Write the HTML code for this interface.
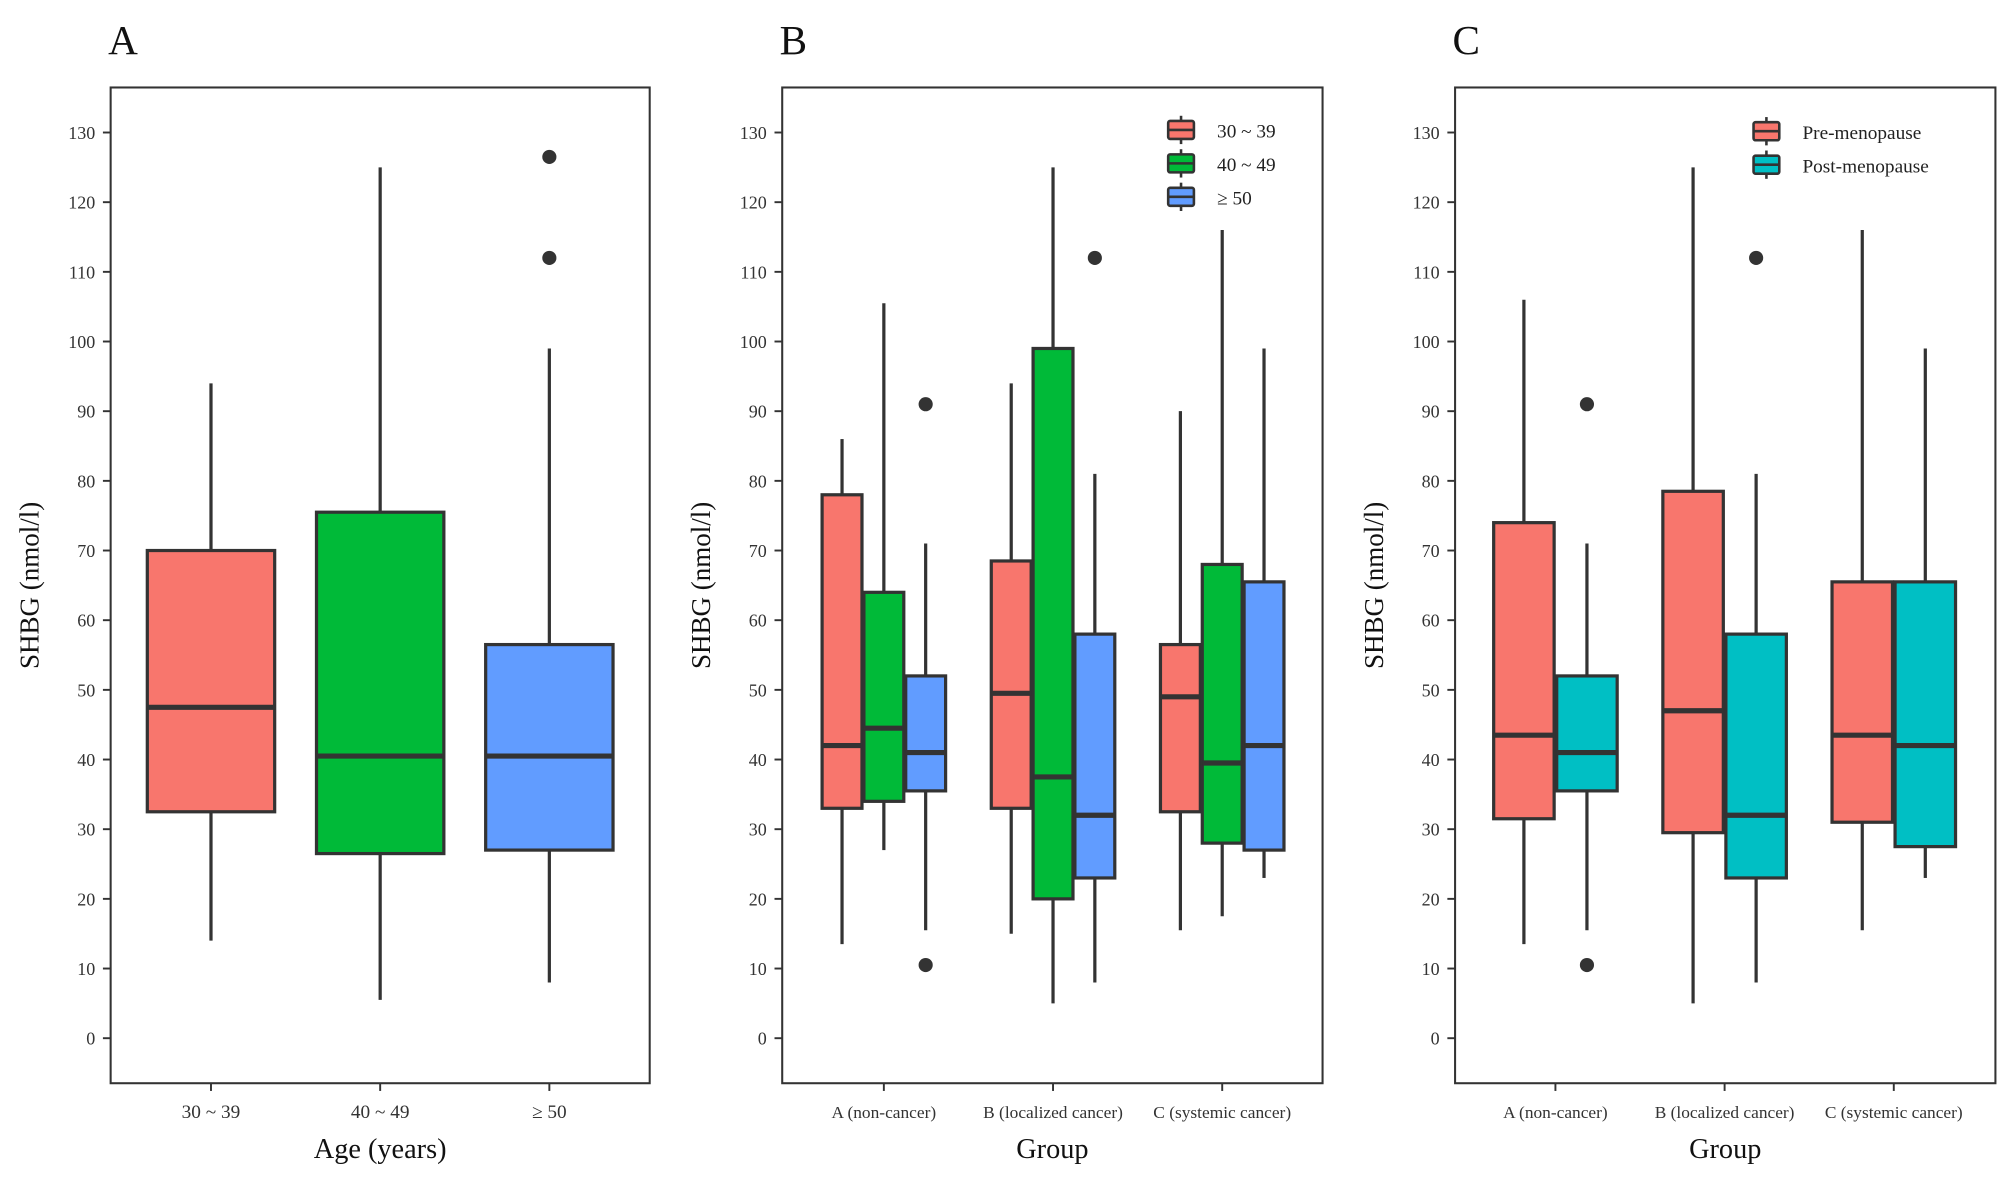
<!DOCTYPE html>
<html><head><meta charset="utf-8"><style>
html,body{margin:0;padding:0;background:#fff}
svg{display:block;font-family:"Liberation Serif",serif}
</style></head><body>
<svg id="fig" width="2007" height="1181" viewBox="0 0 1560 918" preserveAspectRatio="none" xmlns="http://www.w3.org/2000/svg"></svg>
<script>
const yTicks = [0,10,20,30,40,50,60,70,80,90,100,110,120,130];
const colors = {"30 ~ 39":"#F8766D","40 ~ 49":"#00BA38","≥ 50":"#619CFF","Pre-menopause":"#F8766D","Post-menopause":"#00BFC4"};
// Panel A
const aCategories = ["30 ~ 39","40 ~ 49","≥ 50"];
const aLow = [14,5.5,8];
const aQ1 = [32.5,26.5,27];
const aMed = [47.5,40.5,40.5];
const aQ3 = [70,75.5,56.5];
const aHigh = [94,125,99];
const aOutliers = [[],[],[112,126.5]];
// Panel B
const bGroups = ["A (non-cancer)","B (localized cancer)","C (systemic cancer)"];
const bSeries = ["30 ~ 39","40 ~ 49","≥ 50"];
const bLow = [[13.5,27,15.5],[15,5,8],[15.5,17.5,23]];
const bQ1 = [[33,34,35.5],[33,20,23],[32.5,28,27]];
const bMed = [[42,44.5,41],[49.5,37.5,32],[49,39.5,42]];
const bQ3 = [[78,64,52],[68.5,99,58],[56.5,68,65.5]];
const bHigh = [[86,105.5,71],[94,125,81],[90,116,99]];
const bOutliers = [[[],[],[91,10.5]],[[],[],[112]],[[],[],[]]];
// Panel C
const cGroups = ["A (non-cancer)","B (localized cancer)","C (systemic cancer)"];
const cSeries = ["Pre-menopause","Post-menopause"];
const cLow = [[13.5,15.5],[5,8],[15.5,23]];
const cQ1 = [[31.5,35.5],[29.5,23],[31,27.5]];
const cMed = [[43.5,41],[47,32],[43.5,42]];
const cQ3 = [[74,52],[78.5,58],[65.5,65.5]];
const cHigh = [[106,71],[125,81],[116,99]];
const cOutliers = [[[],[91,10.5]],[[],[112]],[[],[]]];

const NS="http://www.w3.org/2000/svg";
const svg=document.getElementById('fig');
function mk(tag,attrs,parent){const e=document.createElementNS(NS,tag);for(const k in attrs)e.setAttribute(k,attrs[k]);(parent||svg).appendChild(e);return e;}
const S="#333";
function yScale(v){return 807-(807-103)*v/130;}

function panel(letter,left,right,yTitle,xTitle){
  const g=mk('g',{});
  
  
  const t=mk('text',{x:left-2,y:42,'font-size':32,fill:'#111'},g);t.textContent=letter;
  
  
  const fr=mk('rect',{x:left,y:68,width:right-left,height:774,fill:'none',stroke:S,'stroke-width':1.6},g);
  
  
  yTicks.forEach(v=>{
    const y=yScale(v);
    mk('line',{x1:left-6,x2:left,y1:y,y2:y,stroke:S,'stroke-width':1.5},g);
    const tl=mk('text',{x:left-12,y:y+5,'font-size':14,'text-anchor':'end',fill:'#333'},g);tl.textContent=v;
    
    
  });
  const yt=mk('text',{x:0,y:0,'font-size':21,'text-anchor':'middle',fill:'#111',transform:`translate(${left-56},455) rotate(-90)`},g);yt.textContent=yTitle;
  
  
  const xt=mk('text',{x:(left+right)/2,y:900,'font-size':22,'text-anchor':'middle',fill:'#111'},g);xt.textContent=xTitle;
  
  
  return g;
}
function xTick(g,x,label,fs){
  mk('line',{x1:x,x2:x,y1:842,y2:848,stroke:S,'stroke-width':1.5},g);
  const t=mk('text',{x:x,y:869,'font-size':fs,'text-anchor':'middle',fill:'#333'},g);t.textContent=label;
  
  
}
function box(g,cx,w,lo,q1,md,q3,hi,outs,color,name){
  const b=mk('g',{},g);
  
  
  mk('line',{x1:cx,x2:cx,y1:yScale(hi),y2:yScale(q3),stroke:S,'stroke-width':2.5},b);
  mk('line',{x1:cx,x2:cx,y1:yScale(q1),y2:yScale(lo),stroke:S,'stroke-width':2.5},b);
  mk('rect',{x:cx-w/2,y:yScale(q3),width:w,height:yScale(q1)-yScale(q3),fill:color,stroke:S,'stroke-width':2.5},b);
  mk('line',{x1:cx-w/2,x2:cx+w/2,y1:yScale(md),y2:yScale(md),stroke:S,'stroke-width':4},b);
  outs.forEach(o=>{const c=mk('circle',{cx:cx,cy:yScale(o),r:5.5,fill:S},b);
    
    });
}
function legend(g,x,y0,series){
  series.forEach((s,i)=>{
    const y=y0+i*26;
    const lg=mk('g',{},g);
    
    
    mk('line',{x1:x,x2:x,y1:y-11,y2:y+11,stroke:S,'stroke-width':2},lg);
    mk('rect',{x:x-10,y:y-7,width:20,height:14,fill:colors[s],stroke:S,'stroke-width':2,rx:1.5},lg);
    mk('line',{x1:x-10,x2:x+10,y1:y,y2:y,stroke:S,'stroke-width':2},lg);
    const t=mk('text',{x:x+28,y:y+6,'font-size':15,fill:'#222'},lg);t.textContent=s;
  });
}
// A
const gA=panel('A',86,505,'SHBG (nmol/l)','Age (years)');
aCategories.forEach((c,i)=>{
  const cx=164+i*131.5;
  xTick(gA,cx,c,15);
  box(gA,cx,99,aLow[i],aQ1[i],aMed[i],aQ3[i],aHigh[i],aOutliers[i],colors[c],'box-'+(i+1));
});
// B
const gB=panel('B',608,1028,'SHBG (nmol/l)','Group');
bGroups.forEach((grp,i)=>{
  const gc=687+i*131.5;
  xTick(gB,gc,grp,13.5);
  bSeries.forEach((s,j)=>{
    const cx=gc+(j-1)*32.5;
    box(gB,cx,31,bLow[i][j],bQ1[i][j],bMed[i][j],bQ3[i][j],bHigh[i][j],bOutliers[i][j],colors[s],'box-g'+(i+1)+'-s'+(j+1));
  });
});
legend(gB,918,101,bSeries);
// C
const gC=panel('C',1131,1551,'SHBG (nmol/l)','Group');
cGroups.forEach((grp,i)=>{
  const gc=1209+i*131.5;
  xTick(gC,gc,grp,13.5);
  cSeries.forEach((s,j)=>{
    const cx=gc+(j-0.5)*49;
    box(gC,cx,47,cLow[i][j],cQ1[i][j],cMed[i][j],cQ3[i][j],cHigh[i][j],cOutliers[i][j],colors[s],'box-g'+(i+1)+'-s'+(j+1));
  });
});
legend(gC,1373,102,cSeries);
</script>
</body></html>
